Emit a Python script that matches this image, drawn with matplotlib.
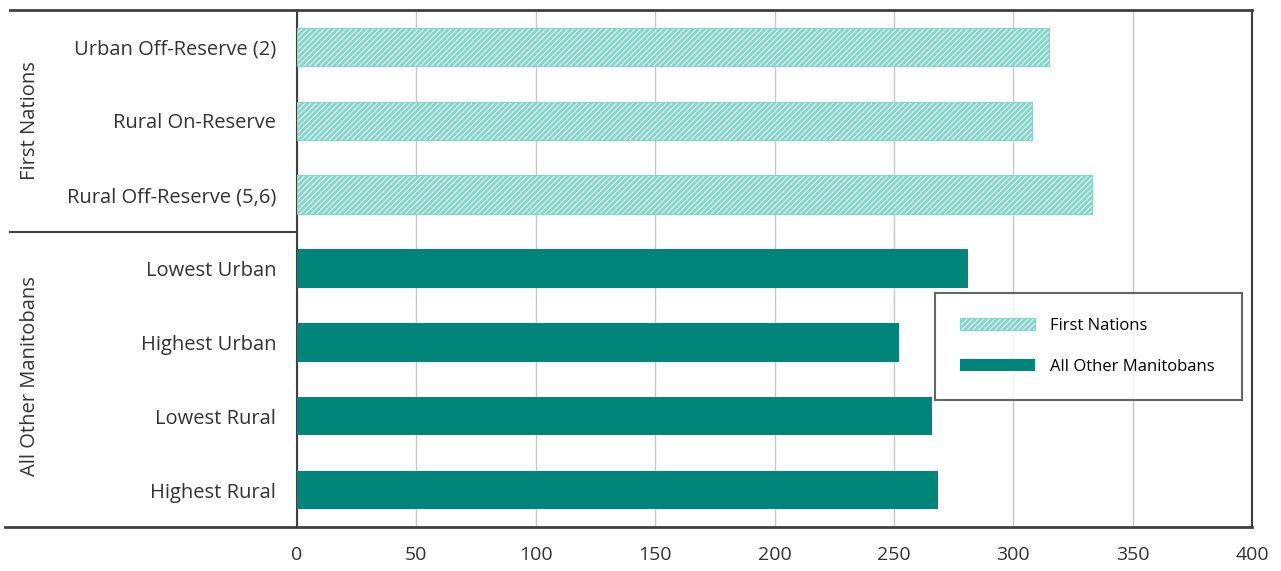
import matplotlib
matplotlib.use("Agg")
import matplotlib.pyplot as plt
from matplotlib.patches import Patch
from matplotlib.lines import Line2D

plt.rcParams['font.family'] = ['Open Sans', 'DejaVu Sans']
plt.rcParams['hatch.linewidth'] = 2.0

# data
first_nations_labels = ["Urban Off-Reserve (2)", "Rural On-Reserve", "Rural Off-Reserve (5,6)"]
first_nations_values = [315, 308, 333]
other_labels = ["Lowest Urban", "Highest Urban", "Lowest Rural", "Highest Rural"]
other_values = [281, 252, 266, 268.5]
group_names = ["First Nations", "All Other Manitobans"]
x_ticks = [0, 50, 100, 150, 200, 250, 300, 350, 400]

DARK = "#00857a"
LIGHT = "#86d4ca"
FRAME = "#404040"
TEXT = "#333333"

fig = plt.figure(figsize=(12.81, 5.71), dpi=100)
ax = fig.add_axes([0.2319, 0.0771, 0.7455, 0.9054])

labels = first_nations_labels + other_labels
n_fn = len(first_nations_labels)
pos_fn = list(range(n_fn))
pos_ot = list(range(n_fn, len(labels)))

ax.barh(pos_fn, first_nations_values, height=0.52, color="#e3f5f2",
        edgecolor=LIGHT, hatch="//////", linewidth=0.8, zorder=3)
ax.barh(pos_ot, other_values, height=0.52, color=DARK, zorder=3)

ax.set_ylim(len(labels) - 0.5, -0.5)
ax.set_xlim(0, 400)
ax.set_xticks(x_ticks)
ax.set_yticks(range(len(labels)))
ax.set_yticklabels(labels, fontsize=14.5, color=TEXT)
ax.tick_params(axis="x", length=0, pad=14, labelsize=14, labelcolor=TEXT)
ax.tick_params(axis="y", length=0, pad=15)
ax.grid(axis="x", color="#c8c8c8", linewidth=1, zorder=0)
ax.set_axisbelow(True)

for s in ["left", "right"]:
    ax.spines[s].set_color(FRAME)
    ax.spines[s].set_linewidth(1.5)
ax.spines["top"].set_visible(False)
ax.spines["bottom"].set_visible(False)

# outer frame lines that run under the label column
tr = ax.transAxes
ax.add_line(Line2D([-0.3005, 1.0], [1.0, 1.0], transform=tr, color=FRAME,
                   linewidth=2, clip_on=False))
ax.add_line(Line2D([-0.306, 1.0], [0.0, 0.0], transform=tr, color=FRAME,
                   linewidth=2, clip_on=False))
div_y = 1 - (n_fn / len(labels))
ax.add_line(Line2D([-0.3005, 0.0], [div_y, div_y], transform=tr, color=FRAME,
                   linewidth=1.5, clip_on=False))

# group names
ax.text(-0.2796, 1 - (n_fn / 2) / len(labels), group_names[0], transform=tr,
        rotation=90, ha="center", va="center", fontsize=14.5, color=TEXT)
ax.text(-0.2796, div_y / 2 + 0.007, group_names[1], transform=tr,
        rotation=90, ha="center", va="center", fontsize=14.5, color=TEXT)

handles = [Patch(facecolor="#e3f5f2", edgecolor=LIGHT, hatch="//////", linewidth=0.8),
           Patch(facecolor=DARK)]
leg = ax.legend(handles, group_names, loc="upper left",
                bbox_to_anchor=(0.668, 0.24, 0.3215, 0.2126), mode="expand",
                fontsize=12, frameon=True, fancybox=False, borderpad=1.5,
                labelspacing=1.5, handlelength=4.5, handleheight=0.75,
                handletextpad=0.9, borderaxespad=0)
leg.get_frame().set_edgecolor(FRAME)
leg.get_frame().set_linewidth(1.5)

fig.savefig("out.png", dpi=100)
